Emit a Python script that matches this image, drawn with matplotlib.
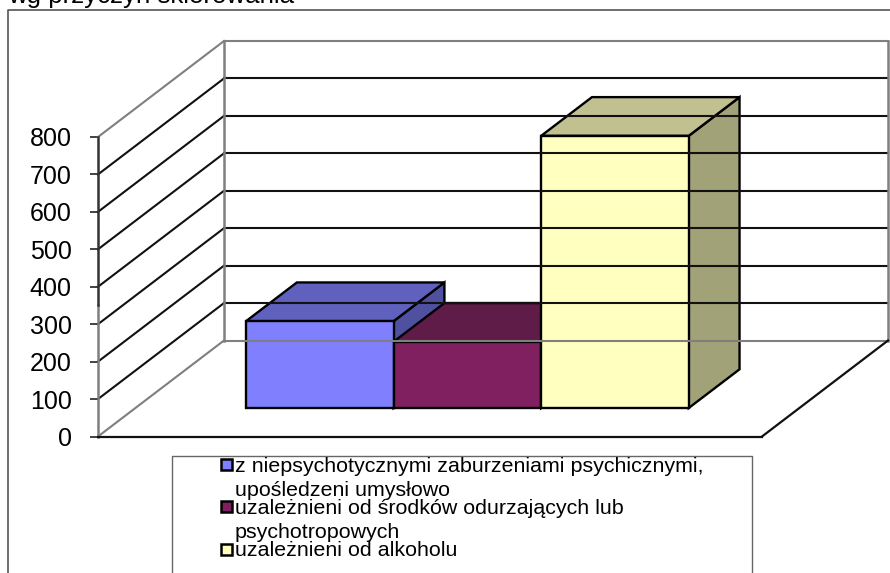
import matplotlib
matplotlib.use('Agg')
import matplotlib.pyplot as plt
from matplotlib.patches import Polygon, Rectangle
from matplotlib.lines import Line2D

plt.rcParams['font.family'] = ['Liberation Sans', 'DejaVu Sans']

# Data
title = 'wg przyczyn skierowania'
series = ['z niepsychotycznymi zaburzeniami psychicznymi,\nupośledzeni umysłowo',
          'uzależnieni od środków odurzających lub\npsychotropowych',
          'uzależnieni od alkoholu']
values = [232, 177, 727]
yticks = [0, 100, 200, 300, 400, 500, 600, 700, 800]
front_colors = ['#8080FF', '#802060', '#FFFFC0']
top_colors = ['#6060BF', '#601C48', '#C0C090']
side_colors = ['#5050A0', '#501840', '#A2A278']

W, H = 890, 573
fig = plt.figure(figsize=(W / 100, H / 100), dpi=100, facecolor='white')


def fx(px):
    return px / W


def fy(py):
    return 1 - py / H


# Axes sit on the front plane of the 3D box
left, right, y0, y800 = 98, 762, 436.5, 137
ax = fig.add_axes([fx(left), fy(y0), fx(right - left), (y0 - y800) / H])
ax.set_xlim(-1.25, 3.25)
ax.set_ylim(0, 800)
ax.patch.set_visible(False)
for s in ax.spines.values():
    s.set_visible(False)
ax.set_xticks([])
ax.set_yticks(yticks)
ax.tick_params(axis='y', labelsize=18, length=6, width=1.2, pad=13, color='#222222')

# Depth of the box, in data units
depth_x = 126 / (right - left) * 4.5
depth_y = 96 / (y0 - y800) * 800
bar_start, bar_end = 0.297, 0.70


def pt(x, v, d):
    return (x + d * depth_x, v + d * depth_y)


def seg(p, q, color, lw=1.5):
    ax.add_line(Line2D([p[0], q[0]], [p[1], q[1]], color=color, lw=lw, clip_on=False,
                       solid_capstyle='projecting'))


GREY = '#7f7f7f'
DARK = '#111111'
x_min, x_max = ax.get_xlim()

# Walls and gridlines
for v in yticks:
    col = GREY if v in (0, 800) else DARK
    seg(pt(x_min, v, 0), pt(x_min, v, 1), col)
    seg(pt(x_min, v, 1), pt(x_max, v, 1), col)
seg(pt(x_min, 0, 1), pt(x_min, 800, 1), GREY, 1.8)
seg(pt(x_max, 0, 1), pt(x_max, 800, 1), GREY, 1.8)
seg((x_min, 0), (x_min, 350), GREY, 1.8)
seg((x_min, 350), (x_min, 800), '#333333', 1.8)
seg((x_min, 0), (x_max, 0), DARK, 1.6)
seg((x_max, 0), pt(x_max, 0, 1), DARK, 1.6)

# Bars, front to right so that each one covers the side of the previous
for i, v in enumerate(values):
    a, b = i - 0.5, i + 0.5
    faces = [
        ([pt(b, 0, bar_start), pt(b, 0, bar_end), pt(b, v, bar_end), pt(b, v, bar_start)], side_colors[i]),
        ([pt(a, v, bar_start), pt(a, v, bar_end), pt(b, v, bar_end), pt(b, v, bar_start)], top_colors[i]),
        ([pt(a, 0, bar_start), pt(b, 0, bar_start), pt(b, v, bar_start), pt(a, v, bar_start)], front_colors[i]),
    ]
    for verts, col in faces:
        ax.add_patch(Polygon(verts, closed=True, facecolor=col, edgecolor='black', lw=1.7,
                             joinstyle='miter', clip_on=False))

# Outer frame, cut by the picture edge
fig.add_artist(Line2D([fx(8), fx(8), fx(890)], [fy(573), fy(10), fy(10)], color='#555555', lw=1.2))
fig.text(fx(8), fy(3), title, fontsize=18.6, color='black', va='baseline', ha='left')

# Legend box, also cut at the bottom
fig.add_artist(Line2D([fx(172), fx(172), fx(752), fx(752)], [fy(573), fy(455.5), fy(455.5), fy(573)],
                      color='#666666', lw=1.0))
text_x = 235
baselines = [[472, 496], [514, 538], [556]]
marker_y = [458, 500, 543]
for i, name in enumerate(series):
    fig.add_artist(Rectangle((fx(221), fy(marker_y[i] + 11.5)), 10.5 / W, 10.5 / H, transform=fig.transFigure,
                             facecolor=front_colors[i], edgecolor='black', lw=1.8))
    for line, by in zip(name.split('\n'), baselines[i]):
        fig.text(fx(text_x), fy(by), line, fontsize=15.4, color='black', va='baseline', ha='left')

fig.savefig('out.png', dpi=100, facecolor='white')
